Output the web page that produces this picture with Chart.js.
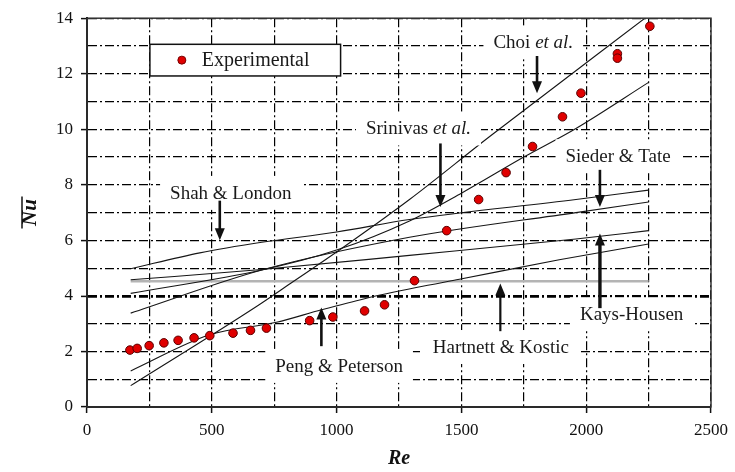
<!DOCTYPE html>
<html>
<head>
<meta charset="utf-8">
<script src="https://cdn.jsdelivr.net/npm/chart.js@4.4.0/dist/chart.umd.min.js"></script>
<style>
  html, body { margin: 0; padding: 0; background: #fff; }
  canvas { display: block; }
</style>
</head>
<body>
<canvas id="nuChart" width="735" height="472"></canvas>
<script>
// Experimental points
var expRe = [172, 201, 249, 308, 365, 429, 492, 585, 655, 719, 892, 985, 1112, 1192, 1312, 1441, 1569, 1679, 1785, 1905, 1979, 2125, 2125, 2255];
var expNu = [2.05, 2.11, 2.21, 2.31, 2.40, 2.49, 2.57, 2.66, 2.76, 2.84, 3.11, 3.24, 3.46, 3.68, 4.55, 6.35, 7.47, 8.44, 9.38, 10.45, 11.30, 12.72, 12.56, 13.71];

// Correlation curves
var choiRe = [175, 679, 825, 1000, 1292, 1612, 2250];
var choiNu = [0.77, 3.62, 4.51, 5.58, 7.47, 9.73, 14.1];
var srinivasRe = [175, 700, 1000, 1292, 1500, 1750, 1959, 2250];
var srinivasNu = [4.09, 4.93, 5.65, 6.70, 7.70, 9.00, 10.03, 11.69];
var shahRe = [175, 452, 700, 1000, 1292, 1959, 2250];
var shahNu = [4.98, 5.55, 5.93, 6.30, 6.75, 7.47, 7.81];
var siederRe = [175, 700, 1292, 1959, 2250];
var siederNu = [3.38, 4.93, 6.11, 7.00, 7.38];
var kaysRe = [175, 700, 1292, 1959, 2250];
var kaysNu = [4.58, 4.95, 5.46, 6.05, 6.35];
var pengRe = [175, 492, 759, 939, 1112, 1319, 1492, 1892, 2250];
var pengNu = [1.30, 2.60, 3.05, 3.50, 3.90, 4.30, 4.60, 5.30, 5.87];
var hartnettRe = [175, 2250];
var hartnettNu = [4.53, 4.53];

// Axis ticks
var xTickLabels = [0, 500, 1000, 1500, 2000, 2500];
var yTickLabels = [0, 2, 4, 6, 8, 10, 12, 14];

function pts(xs, ys) {
    return xs.map(function(x, i) { return {x: x, y: ys[i]}; });
}

function curve(xs, ys) {
    return {
        type: 'line',
        data: pts(xs, ys),
        showLine: true,
        borderColor: '#161616',
        borderWidth: 1.1,
        pointRadius: 0,
        cubicInterpolationMode: 'monotone',
        fill: false
    };
}

// annotation labels: parts are [text, italic]
var labels = [
    {parts: [['Choi ', false], ['et al.', true]], re: 1788, nu: 13.13, arrowRe: 1803, from: 12.64, to: 11.30, w: 2.6},
    {parts: [['Srinivas ', false], ['et al.', true]], re: 1328, nu: 10.03, arrowRe: 1416, from: 9.49, to: 7.20, w: 2.6},
    {parts: [['Sieder & Tate', false]], re: 2128, nu: 9.03, arrowRe: 2055, from: 8.54, to: 7.20, w: 2.6},
    {parts: [['Shah & London', false]], re: 576, nu: 7.71, arrowRe: 532, from: 7.43, to: 6.00, w: 2.6},
    {parts: [['Peng & Peterson', false]], re: 1010, nu: 1.48, arrowRe: 939, from: 2.19, to: 3.58, w: 2.6},
    {parts: [['Hartnett & Kostic', false]], re: 1658, nu: 2.16, arrowRe: 1656, from: 2.73, to: 4.45, w: 2.2},
    {parts: [['Kays-Housen', false]], re: 2182, nu: 3.34, arrowRe: 2055, from: 3.56, to: 6.25, w: 3.4}
];

var FONT = '"Liberation Serif", "Times New Roman", serif';

function drawArrow(ctx, x, y1, y2, w) {
    var dir = y2 > y1 ? 1 : -1;
    ctx.save();
    ctx.strokeStyle = '#111';
    ctx.fillStyle = '#111';
    ctx.lineWidth = w;
    ctx.beginPath();
    ctx.moveTo(x, y1);
    ctx.lineTo(x, y2 - dir * 9);
    ctx.stroke();
    ctx.beginPath();
    ctx.moveTo(x, y2);
    ctx.lineTo(x - 5, y2 - dir * 12);
    ctx.lineTo(x + 5, y2 - dir * 12);
    ctx.closePath();
    ctx.fill();
    ctx.restore();
}

var annotate = {
    id: 'annotate',
    afterDatasetsDraw: function(chart) {
        var ctx = chart.ctx;
        var xs = chart.scales.x, ys = chart.scales.y;
        var area = chart.chartArea;

        // frame
        ctx.save();
        ctx.strokeStyle = '#333';
        ctx.lineWidth = 1.5;
        ctx.strokeRect(area.left, area.top, area.right - area.left, area.bottom - area.top);
        ctx.restore();

        labels.forEach(function(lab) {
            var x = xs.getPixelForValue(lab.re), y = ys.getPixelForValue(lab.nu);
            var w = 0;
            lab.parts.forEach(function(p) {
                ctx.font = (p[1] ? 'italic ' : '') + '19px ' + FONT;
                w += ctx.measureText(p[0]).width;
            });
            ctx.fillStyle = '#fff';
            ctx.fillRect(x - w / 2 - 10, y - 17, w + 20, 34);
            var cx = x - w / 2;
            ctx.fillStyle = '#1a1a1a';
            ctx.textBaseline = 'middle';
            ctx.textAlign = 'left';
            lab.parts.forEach(function(p) {
                ctx.font = (p[1] ? 'italic ' : '') + '19px ' + FONT;
                ctx.fillText(p[0], cx, y + 1);
                cx += ctx.measureText(p[0]).width;
            });
            var ax = xs.getPixelForValue(lab.arrowRe);
            drawArrow(ctx, ax, ys.getPixelForValue(lab.from), ys.getPixelForValue(lab.to), lab.w);
        });

        // legend box
        var l = xs.getPixelForValue(252), r = xs.getPixelForValue(1016);
        var t = ys.getPixelForValue(13.06), b = ys.getPixelForValue(11.92);
        ctx.save();
        ctx.fillStyle = '#fff';
        ctx.fillRect(l, t, r - l, b - t);
        ctx.strokeStyle = '#111';
        ctx.lineWidth = 1.5;
        ctx.strokeRect(l, t, r - l, b - t);
        var my = (t + b) / 2;
        ctx.beginPath();
        ctx.arc(xs.getPixelForValue(380), my, 4, 0, Math.PI * 2);
        ctx.fillStyle = '#e00000';
        ctx.fill();
        ctx.strokeStyle = '#700';
        ctx.lineWidth = 1;
        ctx.stroke();
        ctx.fillStyle = '#1a1a1a';
        ctx.font = '20px ' + FONT;
        ctx.textBaseline = 'middle';
        ctx.textAlign = 'left';
        ctx.fillText('Experimental', xs.getPixelForValue(460), my + 1);
        ctx.restore();

        // overline on the y title
        var tx = ys.left + 22;
        var cy = (area.top + area.bottom) / 2;
        ctx.save();
        ctx.strokeStyle = '#111';
        ctx.lineWidth = 1.5;
        ctx.beginPath();
        ctx.moveTo(tx, cy - 16);
        ctx.lineTo(tx, cy + 16);
        ctx.stroke();
        ctx.restore();
    }
};

var datasets = [{
    type: 'scatter',
    data: pts(expRe, expNu),
    backgroundColor: '#e00000',
    borderColor: '#5a0000',
    borderWidth: 1,
    pointRadius: 4.3,
    pointHoverRadius: 4.3
}];
[[choiRe, choiNu], [srinivasRe, srinivasNu], [shahRe, shahNu], [siederRe, siederNu],
 [kaysRe, kaysNu], [pengRe, pengNu]].forEach(function(c) {
    datasets.push(curve(c[0], c[1]));
});
var hk = curve(hartnettRe, hartnettNu);
hk.borderColor = '#b4b4b4';
hk.borderWidth = 2.5;
datasets.push(hk);

var gridDash = [9, 3, 2, 3];

new Chart(document.getElementById('nuChart'), {
    type: 'scatter',
    data: {datasets: datasets},
    options: {
        responsive: false,
        animation: false,
        events: [],
        layout: {padding: {left: 0, right: 23, top: 13, bottom: 0}},
        plugins: {legend: {display: false}, tooltip: {enabled: false}},
        scales: {
            x: {
                type: 'linear',
                min: 0, max: 2500,
                afterFit: function(s) { s.height = 65; },
                grid: {
                    color: '#000', lineWidth: 1.2, tickLength: 6,
                    tickColor: function(c) { return xTickLabels.indexOf(c.tick.value) >= 0 ? '#111' : 'rgba(0,0,0,0)'; },
                    tickBorderDash: [], tickWidth: 1.5
                },
                border: {display: true, color: '#111', width: 2, dash: gridDash},
                ticks: {
                    stepSize: 250, autoSkip: false, maxRotation: 0, padding: 7,
                    color: '#111', font: {family: FONT, size: 17},
                    callback: function(v) { return xTickLabels.indexOf(v) >= 0 ? String(v) : ''; }
                },
                title: {display: true, text: 'Re', color: '#111', font: {family: FONT, size: 20, style: 'italic', weight: 'bold'}, padding: {top: 0, bottom: 1}}
            },
            y: {
                min: 0, max: 14,
                afterFit: function(s) { s.width = 87; },
                grid: {
                    color: '#000',
                    lineWidth: function(c) { return c.tick.value === 4 ? 2.8 : 1.2; },
                    tickLength: 6,
                    tickColor: function(c) { return yTickLabels.indexOf(c.tick.value) >= 0 ? '#111' : 'rgba(0,0,0,0)'; },
                    tickBorderDash: [], tickWidth: 1.5
                },
                border: {display: true, color: '#111', width: 2, dash: gridDash},
                ticks: {
                    stepSize: 1, autoSkip: false, padding: 8,
                    color: '#111', font: {family: FONT, size: 17},
                    callback: function(v) { return yTickLabels.indexOf(v) >= 0 ? String(v) : ''; }
                },
                title: {display: true, text: 'Nu', color: '#111', font: {family: FONT, size: 21, style: 'italic', weight: 'bold'}, padding: {top: 18, bottom: 0}}
            }
        }
    },
    plugins: [annotate]
});
</script>
</body>
</html>
